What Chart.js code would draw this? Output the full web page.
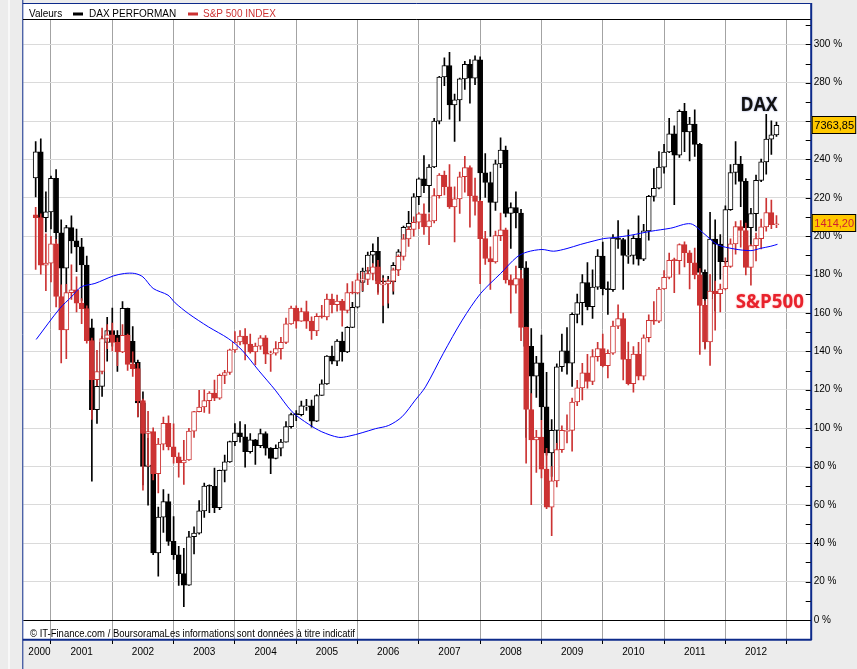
<!DOCTYPE html>
<html lang="fr">
<head>
<meta charset="UTF-8">
<title>DAX / S&amp;P 500</title>
<script src="https://cdn.jsdelivr.net/npm/chart.js"></script>
<style>
  html, body { margin: 0; padding: 0; background: #ececec; }
  #graphe { display: block; }
</style>
</head>
<body>
<canvas id="graphe" width="857" height="669"></canvas>
<script>
// Bougies mensuelles d'octobre 2000 à novembre 2012, en % (échelle de droite)
const debutMois = 9; // octobre 2000, en mois depuis janvier 2000
const series = ['DAX PERFORMAN', 'S&P 500 INDEX'];
const derniersCours = ['7363,85', '1414,20'];

const daxOpen = [
  230.4, 244.0, 209.7,
  212.7, 230.2, 201.8, 183.4, 204.5, 197.6, 194.5, 185.0, 152.3, 109.6, 121.8, 144.7,
  150.9, 148.4, 145.1, 162.4, 145.2, 134.3, 113.2, 80.1, 80.8, 35.0, 53.6, 61.7,
  41.0, 34.0, 24.2, 18.2, 43.4, 45.3, 56.9, 69.8, 69.7, 58.6, 78.0, 82.4,
  93.0, 97.5, 95.5, 87.7, 93.9, 90.8, 97.2, 89.6, 84.2, 89.5, 92.7, 100.8,
  107.1, 107.0, 111.6, 111.6, 103.6, 117.0, 123.1, 137.6, 134.9, 145.3, 139.7, 152.5,
  163.0, 175.9, 181.8, 190.2, 192.1, 176.7, 176.3, 176.2, 184.8, 191.9, 204.7, 206.7,
  220.6, 229.9, 226.4, 236.1, 260.0, 283.0, 289.0, 268.5, 271.1, 282.0, 289.6, 282.4,
  291.9, 233.0, 228.0, 217.6, 237.7, 244.9, 211.9, 215.0, 212.1, 183.5, 142.6, 127.1,
  134.0, 111.1, 87.1, 98.8, 132.0, 140.3, 133.9, 159.3, 165.4, 175.9, 163.3, 173.5,
  189.6, 172.7, 172.2, 199.1, 198.3, 190.0, 190.0, 198.9, 188.0, 202.8, 220.8, 225.0,
  236.0, 243.9, 253.4, 242.2, 265.1, 254.4, 258.4, 247.9, 181.2, 167.5, 198.5, 195.9,
  186.7, 213.9, 233.2, 237.6, 228.6, 204.5, 211.8, 229.1, 238.8, 250.6, 252.8
];
const daxHigh = [
  249.4, 250.8, 223.2,
  231.4, 234.8, 208.6, 205.7, 210.6, 203.8, 198.9, 189.7, 156.8, 126.7, 148.0, 157.7,
  162.6, 150.9, 166.0, 162.6, 152.9, 135.4, 118.9, 94.7, 88.4, 58.8, 68.0, 65.6,
  53.9, 38.4, 37.4, 46.2, 48.6, 62.2, 71.4, 70.4, 79.2, 78.2, 85.9, 93.2,
  102.4, 103.4, 101.9, 97.1, 94.2, 99.5, 98.1, 89.8, 91.3, 94.2, 103.4, 107.8,
  109.2, 114.1, 115.0, 114.6, 117.5, 125.2, 137.8, 142.7, 146.1, 150.0, 152.9, 165.5,
  176.2, 183.4, 191.7, 196.0, 199.4, 179.5, 179.1, 186.3, 193.1, 205.3, 213.0, 222.2,
  230.5, 242.1, 237.3, 261.5, 283.3, 293.0, 295.9, 274.1, 282.4, 291.1, 292.1, 294.0,
  293.5, 243.1, 233.4, 239.7, 251.3, 247.0, 217.4, 223.2, 214.0, 186.8, 151.9, 137.4,
  148.5, 129.1, 104.4, 133.5, 149.0, 152.4, 160.1, 169.8, 180.0, 186.3, 182.5, 193.1,
  197.0, 176.2, 200.9, 208.2, 198.9, 203.3, 200.4, 210.6, 206.2, 221.3, 235.3, 244.1,
  247.9, 261.5, 257.6, 265.9, 269.3, 262.0, 265.9, 248.4, 182.5, 212.5, 208.6, 200.9,
  215.9, 237.3, 249.4, 241.6, 230.0, 214.5, 231.9, 240.2, 263.5, 260.1, 259.5
];
const daxLow = [
  220.5, 208.6, 202.3,
  203.8, 196.5, 162.1, 157.7, 191.2, 181.5, 166.5, 148.0, 72.4, 102.4, 116.5, 134.9,
  142.7, 129.6, 143.2, 140.7, 132.5, 105.8, 70.4, 59.8, 34.0, 22.9, 45.7, 38.9,
  31.6, 18.0, 6.9, 18.0, 34.5, 44.7, 53.4, 55.9, 55.9, 57.5, 71.9, 82.1,
  90.8, 92.7, 79.6, 86.9, 81.1, 89.8, 85.9, 76.2, 84.0, 85.5, 92.7, 100.0,
  103.9, 106.3, 109.2, 100.5, 103.4, 117.0, 122.8, 133.5, 132.5, 134.9, 139.3, 152.4,
  162.6, 171.3, 179.1, 185.9, 170.8, 154.8, 162.6, 169.8, 182.0, 191.2, 200.9, 204.3,
  216.4, 222.7, 212.5, 235.8, 258.6, 278.5, 261.0, 249.4, 260.1, 276.5, 269.3, 279.0,
  210.1, 220.3, 199.9, 213.5, 235.8, 210.1, 193.6, 204.3, 174.7, 95.2, 109.2, 116.0,
  104.4, 85.9, 74.8, 89.3, 129.6, 128.1, 121.8, 154.8, 153.8, 161.6, 157.2, 172.3,
  169.4, 159.2, 171.3, 193.6, 172.3, 185.9, 185.4, 184.9, 187.3, 198.0, 218.3, 224.7,
  232.9, 243.6, 216.4, 241.1, 244.1, 239.2, 241.6, 164.0, 141.7, 147.1, 161.1, 177.6,
  186.0, 213.5, 227.1, 215.4, 201.4, 187.3, 202.8, 228.5, 232.4, 242.6, 252.0
];
const daxClose = [
  244.0, 209.7, 212.7,
  230.2, 201.8, 183.4, 204.5, 197.6, 194.5, 185.0, 152.3, 109.6, 121.8, 144.7, 150.9,
  148.4, 145.1, 162.4, 145.2, 134.3, 113.2, 80.1, 80.8, 35.0, 53.6, 61.7, 41.0,
  34.0, 24.2, 18.2, 43.4, 45.3, 56.9, 69.8, 69.7, 58.6, 78.0, 82.4, 93.0,
  97.5, 95.5, 87.7, 93.9, 90.8, 97.2, 89.6, 84.2, 89.5, 92.7, 100.8, 107.1,
  107.0, 111.6, 111.6, 103.6, 117.0, 123.1, 137.6, 134.9, 145.3, 139.7, 152.5, 163.0,
  175.9, 181.8, 190.2, 192.1, 176.7, 176.3, 176.2, 184.8, 191.9, 204.7, 206.7, 220.6,
  229.9, 226.4, 236.1, 260.0, 283.0, 289.0, 268.5, 271.1, 282.0, 289.6, 282.4, 291.9,
  233.0, 228.0, 217.6, 237.7, 244.9, 211.9, 215.0, 212.1, 183.5, 142.6, 127.1, 134.0,
  111.1, 87.1, 98.8, 132.0, 140.3, 133.9, 159.3, 165.4, 175.9, 163.3, 173.5, 189.6,
  172.7, 172.2, 199.1, 198.3, 190.0, 190.0, 198.9, 188.0, 202.8, 220.8, 225.0, 236.0,
  243.9, 253.4, 242.2, 265.1, 254.4, 258.4, 247.9, 181.2, 167.5, 198.5, 195.9, 186.7,
  213.9, 233.2, 237.6, 228.6, 204.5, 211.8, 229.1, 238.8, 250.6, 252.8, 257.8
];

const spxOpen = [
  211.2, 209.7, 184.9,
  186.0, 196.0, 168.6, 151.2, 170.6, 172.1, 165.1, 162.3, 145.6, 125.3, 129.5, 146.7,
  148.6, 144.7, 139.7, 148.4, 133.2, 131.0, 114.3, 97.3, 98.2, 76.2, 91.7, 102.5,
  90.3, 85.1, 81.9, 83.4, 98.4, 108.6, 111.0, 114.3, 118.2, 115.6, 127.5, 129.0,
  140.8, 144.9, 148.0, 143.8, 139.7, 142.7, 147.1, 138.6, 139.0, 141.4, 144.7, 154.3,
  162.5, 155.8, 160.8, 155.8, 150.6, 158.2, 158.0, 167.3, 164.3, 166.2, 161.4, 170.6,
  170.4, 177.3, 177.5, 180.6, 184.0, 175.1, 175.1, 176.6, 182.5, 189.5, 198.6, 203.6,
  207.3, 211.7, 204.9, 208.0, 221.2, 231.9, 225.8, 215.3, 219.5, 231.0, 235.8, 221.0,
  218.2, 198.8, 188.4, 186.6, 200.3, 203.4, 177.3, 174.5, 178.0, 152.5, 109.7, 93.8,
  95.3, 78.6, 58.8, 72.5, 88.8, 98.8, 98.8, 113.6, 121.0, 128.8, 124.3, 137.3,
  141.4, 132.5, 139.0, 153.2, 157.1, 135.8, 123.2, 138.6, 127.1, 147.1, 156.2, 155.8,
  172.5, 178.6, 187.5, 187.3, 195.6, 191.4, 186.2, 179.9, 164.0, 144.9, 171.4, 170.1,
  172.5, 184.3, 196.0, 205.1, 203.0, 183.8, 195.1, 198.8, 204.9, 212.3, 206.0
];
const spxHigh = [
  215.1, 211.7, 201.2,
  199.9, 198.4, 174.7, 175.0, 185.1, 178.8, 167.5, 163.8, 146.9, 140.6, 152.1, 154.0,
  154.7, 146.9, 154.0, 149.0, 139.7, 133.8, 115.1, 108.8, 100.1, 94.7, 105.8, 106.4,
  102.3, 87.1, 93.6, 99.9, 108.8, 119.7, 119.9, 119.0, 125.1, 128.2, 130.1, 141.2,
  150.3, 150.8, 151.9, 149.0, 144.3, 148.2, 148.2, 140.1, 145.1, 147.3, 157.3, 163.6,
  163.8, 162.5, 166.2, 158.0, 159.7, 164.0, 169.9, 169.9, 169.3, 167.1, 175.3, 176.4,
  180.6, 181.2, 183.8, 185.8, 187.5, 178.2, 177.5, 183.4, 190.3, 201.0, 204.9, 210.1,
  212.3, 216.9, 211.7, 224.9, 232.7, 234.0, 237.3, 225.8, 233.4, 241.7, 236.7, 230.3,
  218.8, 202.5, 194.5, 202.7, 212.1, 204.3, 179.9, 184.5, 182.3, 152.7, 118.0, 98.8,
  104.0, 89.5, 79.9, 92.1, 101.2, 106.9, 115.6, 124.9, 133.8, 138.4, 141.0, 144.7,
  149.0, 140.8, 155.8, 164.3, 159.9, 144.9, 142.5, 144.7, 148.6, 159.0, 166.0, 173.4,
  182.1, 191.2, 188.6, 196.0, 197.1, 192.5, 193.8, 183.2, 166.4, 180.1, 176.6, 175.1,
  188.8, 198.6, 207.7, 208.2, 206.9, 195.6, 201.6, 209.0, 219.7, 218.8, 210.8
];
const spxLow = [
  182.7, 180.3, 171.6,
  176.2, 163.2, 134.0, 136.2, 167.1, 160.6, 154.5, 144.3, 104.5, 122.1, 128.2, 141.4,
  140.3, 132.5, 139.3, 130.1, 126.9, 106.0, 67.7, 80.1, 73.0, 66.2, 88.6, 88.6,
  81.7, 74.5, 70.6, 83.2, 95.1, 108.4, 108.2, 107.7, 114.3, 115.0, 123.2, 128.0,
  139.5, 143.4, 135.6, 139.0, 133.0, 141.0, 133.6, 129.5, 138.0, 136.0, 144.0, 154.0,
  152.1, 155.6, 151.9, 146.2, 148.2, 157.3, 156.4, 160.1, 161.0, 153.2, 160.1, 169.9,
  169.9, 171.6, 174.7, 177.3, 169.7, 164.0, 165.1, 171.4, 179.5, 187.5, 194.7, 200.1,
  204.0, 201.0, 195.6, 206.9, 219.9, 221.6, 214.5, 197.1, 211.9, 223.0, 204.7, 211.0,
  175.3, 185.3, 172.3, 186.0, 197.7, 175.6, 159.9, 170.3, 145.6, 81.7, 60.1, 76.9,
  74.0, 58.0, 44.0, 69.3, 87.3, 92.3, 88.0, 111.7, 114.7, 120.8, 122.7, 134.9,
  131.9, 126.2, 138.4, 151.8, 125.1, 122.5, 118.8, 125.1, 125.1, 144.9, 154.0, 155.0,
  172.3, 177.8, 170.6, 180.3, 184.0, 172.5, 177.7, 138.4, 141.2, 132.7, 151.0, 160.6,
  172.0, 183.8, 190.6, 194.3, 179.9, 174.5, 187.1, 193.4, 202.7, 204.0, 204.5
];
const spxClose = [
  209.7, 184.9, 186.0,
  196.0, 168.6, 151.2, 170.6, 172.1, 165.1, 162.3, 145.6, 125.3, 129.5, 146.7, 148.6,
  144.7, 139.7, 148.4, 133.2, 131.0, 114.3, 97.3, 98.2, 76.2, 91.7, 102.5, 90.3,
  85.1, 81.9, 83.4, 98.4, 108.6, 111.0, 114.3, 118.2, 115.6, 127.5, 129.0, 140.8,
  144.9, 148.0, 143.8, 139.7, 142.7, 147.1, 138.6, 139.0, 141.4, 144.7, 154.3, 162.5,
  155.8, 160.8, 155.8, 150.6, 158.2, 158.0, 167.3, 164.3, 166.2, 161.4, 170.6, 170.4,
  177.3, 177.5, 180.6, 184.0, 175.1, 175.1, 176.6, 182.5, 189.5, 198.6, 203.6, 207.3,
  211.7, 204.9, 208.0, 221.2, 231.9, 225.8, 215.3, 219.5, 231.0, 235.8, 221.0, 218.2,
  198.8, 188.4, 186.6, 200.3, 203.4, 177.3, 174.5, 178.0, 152.5, 109.7, 93.8, 95.3,
  78.6, 58.8, 72.5, 88.8, 98.8, 98.8, 113.6, 121.0, 128.8, 124.3, 137.3, 141.4,
  132.5, 139.0, 153.2, 157.1, 135.8, 123.2, 138.6, 127.1, 147.1, 156.2, 155.8, 172.5,
  178.6, 187.5, 187.3, 195.6, 191.4, 186.2, 179.9, 164.0, 144.9, 171.4, 170.1, 172.5,
  184.3, 196.0, 205.1, 203.0, 183.8, 195.1, 198.8, 204.9, 212.3, 206.0, 206.5
];

// moyenne mobile (ligne bleue): mois depuis janv. 2000 / %
const moyX = [9.1, 13.7, 16.0, 17.9, 20.6, 24.2, 26.4, 28.4, 30.0, 32.0, 34.9, 36.3, 38.9,
  42.8, 46.7, 49.4, 52.6, 55.9, 59.2, 62.4, 65.0, 68.3, 70.3, 72.9, 75.5, 78.1, 80.7, 83.3,
  85.3, 88.8, 92.5, 96.1, 100.0, 103.2, 105.2, 108.1, 110.4, 113.0, 115.6, 118.3, 120.2,
  122.2, 125.4, 129.4, 133.3, 137.2, 139.8, 142.4, 145.7, 149.0, 150.9, 152.9, 154.2];
const moyY = [146.2, 162.3, 168.4, 173.6, 175.4, 179.3, 180.6, 180.6, 178.8, 172.8, 169.3, 165.3, 159.7,
  152.8, 146.7, 140.6, 130.2, 119.8, 108.5, 102.1, 98.1, 95.2, 95.8, 97.6, 99.7, 101.4, 105.9, 114.6,
  121.5, 139.0, 156.3, 170.2, 180.6, 189.2, 191.8, 193.1, 192.2, 193.6, 195.7, 197.6, 198.8,
  199.3, 200.5, 202.6, 204.2, 206.5, 201.4, 195.7, 193.4, 192.5, 193.7, 194.8, 195.8];

// axes
const annees = ['2000', '2001', '2002', '2003', '2004', '2005', '2006', '2007', '2008', '2009', '2010', '2011', '2012'];
const posAnnees = [9.75, 18, 30, 42, 54, 66, 78, 90, 102, 114, 126, 138, 150];
const frontieres = [12, 24, 36, 48, 60, 72, 84, 96, 108, 120, 132, 144, 156];
const echelleY = [0, 20, 40, 60, 80, 100, 120, 140, 160, 180, 200, 220, 240, 260, 280, 300];
const graduations = [0, 10, 20, 30, 40, 50, 60, 70, 80, 90, 100, 110, 120, 130, 140, 150,
  160, 170, 180, 190, 200, 210, 220, 230, 240, 250, 260, 270, 280, 290, 300, 310];

const rouge = '#cc3333';
const marine = '#0c2a8a';
const police = '"Liberation Sans", Arial, sans-serif';

const xMois = daxClose.map((_, i) => debutMois + i);
const corps = (o, c) => xMois.map((x, i) => ({ x: x, y: [o[i], c[i]] }));
const meches = (l, h) => xMois.map((x, i) => ({ x: x, y: [l[i], h[i]] }));

function texteAjuste(c, texte, x, y, largeur) {
  const w = c.measureText(texte).width;
  c.save();
  c.translate(x, y);
  c.scale(largeur / w, 1);
  c.fillText(texte, 0, 0);
  c.restore();
}

const habillage = {
  id: 'habillage',
  beforeDraw(chart) {
    const c = chart.ctx, a = chart.chartArea;
    c.save();
    c.fillStyle = '#ececec';
    c.fillRect(0, 0, chart.width, chart.height);
    c.fillStyle = '#f8f8f8';
    c.fillRect(8, 0, 2, chart.height);
    c.fillStyle = '#ffffff';
    c.fillRect(23, 3, a.right - 23, a.bottom - 3);
    c.restore();
  },
  afterDatasetsDraw(chart) {
    const c = chart.ctx, sx = chart.scales.x, sy = chart.scales.y;
    c.save();
    c.textAlign = 'center';
    c.textBaseline = 'alphabetic';
    c.font = 'bold 19px "Open Sans", "Noto Sans", sans-serif';
    c.shadowColor = 'rgba(30,50,150,0.55)';
    c.shadowBlur = 2;
    c.fillStyle = '#111111';
    texteAjuste(c, 'DAX', sx.getPixelForValue(150.6), sy.getPixelForValue(265.1), 37);
    c.shadowColor = 'rgba(255,110,110,0.6)';
    c.fillStyle = '#e8222c';
    texteAjuste(c, 'S&P500', sx.getPixelForValue(152.7), sy.getPixelForValue(162.7), 68);
    c.restore();
  },
  afterDraw(chart) {
    const c = chart.ctx, a = chart.chartArea, sy = chart.scales.y;
    c.save();
    // cadre
    c.strokeStyle = marine;
    c.lineWidth = 1;
    c.beginPath();
    c.moveTo(22.8, 0); c.lineTo(22.8, chart.height);
    c.moveTo(22.8, 3.5); c.lineTo(a.right, 3.5);
    c.stroke();
    c.lineWidth = 2;
    c.beginPath();
    c.moveTo(a.right + 0.5, 3); c.lineTo(a.right + 0.5, a.bottom + 1);
    c.moveTo(22.8, a.bottom + 0.8); c.lineTo(a.right + 1, a.bottom + 0.8);
    c.stroke();
    // séparation légende
    c.strokeStyle = '#000';
    c.lineWidth = 1;
    c.beginPath();
    c.moveTo(23, 19.5); c.lineTo(a.right, 19.5);
    c.stroke();
    // graduations intérieures de l'axe droit
    c.beginPath();
    graduations.forEach(v => {
      const y = Math.round(sy.getPixelForValue(v)) + 0.5;
      c.moveTo(a.right - 5, y); c.lineTo(a.right, y);
    });
    c.stroke();
    // légende
    c.font = '10px ' + police;
    c.textAlign = 'left';
    c.textBaseline = 'alphabetic';
    c.fillStyle = '#000';
    c.fillText('Valeurs', 29, 17.3);
    c.fillRect(73, 12.5, 10, 3);
    c.fillText(series[0], 89, 17.3);
    c.fillStyle = rouge;
    c.fillRect(188, 12.5, 10, 3);
    c.fillText(series[1], 203, 17.3);
    // source
    c.fillStyle = '#000';
    c.font = '10px "Liberation Sans Narrow", ' + police;
    texteAjuste(c, '\u00a9 IT-Finance.com / BoursoramaLes informations sont données à titre indicatif', 30, 636.5, 325);
    // cours actuels
    const boites = [
      { v: daxClose[daxClose.length - 1], t: derniersCours[0], coul: '#000' },
      { v: spxClose[spxClose.length - 1], t: derniersCours[1], coul: '#d02030' }
    ];
    c.font = '11px ' + police;
    c.textAlign = 'center';
    c.textBaseline = 'middle';
    boites.forEach(b => {
      const y = sy.getPixelForValue(b.v);
      const haut = Math.round(y - 9.5);
      c.fillStyle = '#ffc800';
      c.fillRect(a.right + 1, haut, 44, 18);
      c.strokeStyle = '#000';
      c.strokeRect(a.right + 1.5, haut + 0.5, 43.5, 17);
      c.fillStyle = b.coul;
      c.fillText(b.t, a.right + 23.5, haut + 9.5);
    });
    c.restore();
  }
};

const haussier = (o, cl, coul) => ctx => (cl[ctx.dataIndex] >= o[ctx.dataIndex] ? '#ffffff' : coul);

new Chart(document.getElementById('graphe'), {
  type: 'bar',
  data: {
    datasets: [
      {
        type: 'line',
        label: 'moyenne',
        data: moyX.map((x, i) => ({ x: x, y: moyY[i] })),
        borderColor: '#0000ff',
        borderWidth: 1,
        pointRadius: 0,
        tension: 0.3
      },
      {
        label: series[1],
        data: corps(spxOpen, spxClose),
        backgroundColor: haussier(spxOpen, spxClose, rouge),
        borderColor: rouge,
        borderWidth: 1,
        borderSkipped: false,
        barThickness: 5,
        minBarLength: 1,
        grouped: false
      },
      {
        label: series[1] + ' extrêmes',
        data: meches(spxLow, spxHigh),
        backgroundColor: rouge,
        borderWidth: 0,
        barThickness: 1,
        grouped: false
      },
      {
        label: series[0],
        data: corps(daxOpen, daxClose),
        backgroundColor: haussier(daxOpen, daxClose, '#000000'),
        borderColor: '#000000',
        borderWidth: 1,
        borderSkipped: false,
        barThickness: 5,
        minBarLength: 1,
        grouped: false
      },
      {
        label: series[0] + ' extrêmes',
        data: meches(daxLow, daxHigh),
        backgroundColor: '#000000',
        borderWidth: 0,
        barThickness: 1,
        grouped: false
      }
    ]
  },
  options: {
    responsive: false,
    animation: false,
    layout: { padding: { left: 23.3, top: 20, right: 0, bottom: 0 } },
    plugins: {
      legend: { display: false },
      tooltip: { enabled: false }
    },
    scales: {
      x: {
        type: 'linear',
        min: 6.58,
        max: 160.7,
        offset: false,
        afterBuildTicks: s => {
          s.ticks = frontieres.concat(posAnnees).sort((p, q) => p - q).map(v => ({ value: v }));
        },
        afterFit: s => { s.height = 30; },
        border: { display: false },
        grid: {
          offset: false,
          lineWidth: 1,
          tickLength: 5,
          color: ctx => (ctx.tick && frontieres.includes(ctx.tick.value) ? '#a3a3a3' : 'rgba(0,0,0,0)'),
          tickColor: ctx => (ctx.tick && frontieres.includes(ctx.tick.value) ? '#000000' : 'rgba(0,0,0,0)')
        },
        ticks: {
          autoSkip: false,
          maxRotation: 0,
          padding: 2,
          color: '#000',
          font: { family: police, size: 10 },
          callback: v => {
            const i = posAnnees.indexOf(v);
            return i >= 0 ? annees[i] : '';
          }
        }
      },
      y: {
        position: 'right',
        min: -9.9,
        max: 312.7,
        afterBuildTicks: s => { s.ticks = echelleY.map(v => ({ value: v })); },
        afterFit: s => { s.width = 46.3; },
        border: { display: false },
        grid: {
          drawTicks: false,
          lineWidth: 1,
          color: ctx => (ctx.tick && ctx.tick.value === 0 ? '#000000' : '#dadada')
        },
        ticks: {
          padding: 3,
          color: '#000',
          font: { family: police, size: 10 },
          callback: v => v + ' %'
        }
      }
    }
  },
  plugins: [habillage]
});
</script>
</body>
</html>
